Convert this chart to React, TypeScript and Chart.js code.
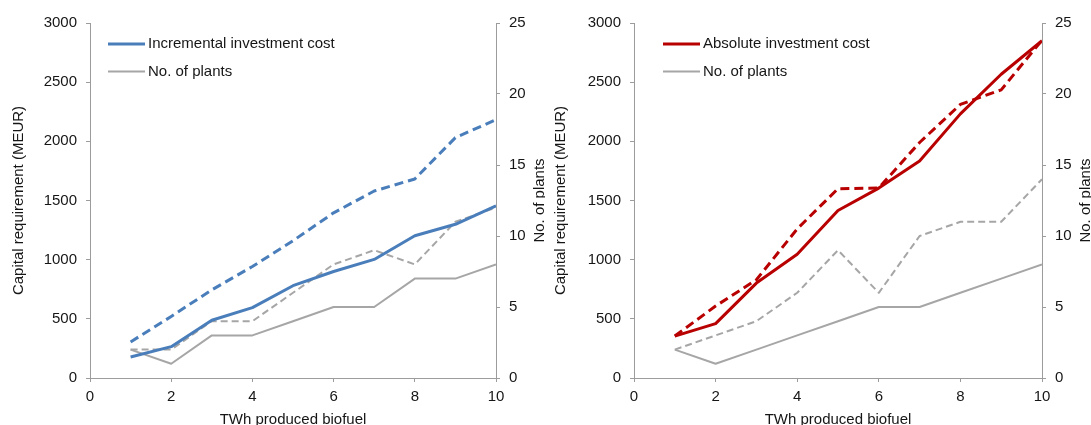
import React, { useEffect, useRef } from "react";
import { Chart, registerables } from "chart.js";

Chart.register(...registerables);

// ---------- data ----------
const twh = [1, 2, 3, 4, 5, 6, 7, 8, 9, 10];

// left panel
const incrementalCost = [178, 265, 488, 595, 780, 900, 1002, 1202, 1299, 1455];
const incrementalCostDashed = [305, 520, 745, 942, 1160, 1396, 1580, 1682, 2031, 2183];
const plantsIncremental = [2, 1, 3, 3, 4, 5, 5, 7, 7, 8];
const plantsIncrementalDashed = [2, 2, 4, 4, 6, 8, 9, 8, 11, 12];

// right panel
const absoluteCost = [354, 459, 802, 1046, 1415, 1605, 1834, 2232, 2567, 2850];
const absoluteCostDashed = [355, 608, 830, 1260, 1600, 1606, 1990, 2312, 2435, 2855];
const plantsAbsolute = [2, 1, 2, 3, 4, 5, 5, 6, 7, 8];
const plantsAbsoluteDashed = [2, 3, 4, 6, 9, 6, 10, 11, 11, 14];

// axis ticks
const costTicks = [0, 500, 1000, 1500, 2000, 2500, 3000];
const plantTicks = [0, 5, 10, 15, 20, 25];
const twhTicks = [0, 2, 4, 6, 8, 10];

const xTitle = "TWh produced biofuel";
const costTitle = "Capital requirement (MEUR)";
const plantsTitle = "No. of plants";
const plantsLabel = "No. of plants";

// ---------- styles ----------
const FONT = "'Liberation Sans', Arial, Helvetica, sans-serif";
const TEXT = "#161616";
const AXIS = "#9c9c9c";
const GRAY = "#a6a6a6";
const BLUE = "#4a7ebb";
const RED = "#b80000";

const CANVAS_H = 440;

type PanelProps = {
  costLabel: string;
  costColor: string;
  cost: number[];
  costDashed: number[];
  plants: number[];
  plantsDashed: number[];
  width: number;
  leftWidth: number;
  leftTitlePad: number;
  legendX: number;
};

function pts(values: number[]) {
  return twh.map((x, i) => ({ x, y: values[i] }));
}

const plainLabel = (v: any) => String(v);

function ChartPanel(p: PanelProps) {
  const ref = useRef<HTMLCanvasElement | null>(null);

  useEffect(() => {
    if (!ref.current) return;
    const rightWidth = 49;
    const overlay = {
      id: "overlay",
      afterDraw(chart: any) {
        const ctx = chart.ctx as CanvasRenderingContext2D;
        const area = chart.chartArea;
        ctx.save();
        ctx.font = `15px ${FONT}`;
        ctx.fillStyle = TEXT;
        ctx.textBaseline = "middle";
        ctx.textAlign = "left";
        const items = chart.data.datasets.filter((d: any) => d.inLegend);
        items.forEach((d: any, i: number) => {
          const y = 44 + i * 27.5;
          ctx.beginPath();
          ctx.setLineDash([]);
          ctx.strokeStyle = d.borderColor;
          ctx.lineWidth = d.borderWidth;
          ctx.moveTo(p.legendX, y);
          ctx.lineTo(p.legendX + 37, y);
          ctx.stroke();
          ctx.fillText(d.label, p.legendX + 40, y);
        });
        ctx.translate(p.width - 5, (area.top + area.bottom) / 2);
        ctx.rotate(-Math.PI / 2);
        ctx.textAlign = "center";
        ctx.fillText(plantsTitle, 0, 0);
        ctx.restore();
      },
    };

    const gridOpts = {
      display: true,
      drawOnChartArea: false,
      drawTicks: true,
      tickLength: 4,
      color: AXIS,
      lineWidth: 1,
    };
    const borderOpts = { display: true, color: AXIS, width: 1 };
    const tickFont = { family: FONT, size: 15 };

    const chart = new Chart(ref.current, {
      type: "line",
      data: {
        datasets: [
          {
            label: p.costLabel,
            inLegend: true,
            data: pts(p.cost),
            borderColor: p.costColor,
            borderWidth: 3,
            yAxisID: "y",
          },
          {
            label: p.costLabel + " (dashed)",
            data: pts(p.costDashed),
            borderColor: p.costColor,
            borderWidth: 3,
            borderDash: [9, 5],
            yAxisID: "y",
          },
          {
            label: plantsLabel,
            inLegend: true,
            data: pts(p.plants),
            borderColor: GRAY,
            borderWidth: 2,
            yAxisID: "y1",
          },
          {
            label: plantsLabel + " (dashed)",
            data: pts(p.plantsDashed),
            borderColor: GRAY,
            borderWidth: 2,
            borderDash: [7, 4],
            yAxisID: "y1",
          },
        ] as any,
      },
      options: {
        animation: false,
        responsive: false,
        events: [],
        elements: {
          point: { radius: 0, hoverRadius: 0 },
          line: { tension: 0, fill: false, borderCapStyle: "butt", borderJoinStyle: "round" },
        },
        layout: { padding: { top: 23, left: 0, right: 0, bottom: 0 } },
        plugins: {
          legend: { display: false },
          tooltip: { enabled: false },
        },
        scales: {
          x: {
            type: "linear",
            position: "bottom",
            min: twhTicks[0],
            max: twhTicks[twhTicks.length - 1],
            grid: gridOpts,
            border: borderOpts,
            ticks: {
              stepSize: twhTicks[1] - twhTicks[0],
              font: tickFont,
              color: TEXT,
              padding: 6,
              maxRotation: 0,
              callback: plainLabel,
            },
            title: {
              display: true,
              text: xTitle,
              font: { family: FONT, size: 15 },
              color: TEXT,
              padding: { top: 0, bottom: 11 },
            },
            afterFit: (s: any) => {
              s.height = CANVAS_H - 378;
            },
          },
          y: {
            type: "linear",
            position: "left",
            min: costTicks[0],
            max: costTicks[costTicks.length - 1],
            grid: gridOpts,
            border: borderOpts,
            ticks: {
              stepSize: costTicks[1] - costTicks[0],
              font: tickFont,
              color: TEXT,
              padding: 9,
              callback: plainLabel,
            },
            title: {
              display: true,
              text: costTitle,
              font: { family: FONT, size: 15 },
              color: TEXT,
              padding: { top: p.leftTitlePad, bottom: 0 },
            },
            afterFit: (s: any) => {
              s.width = p.leftWidth;
            },
          },
          y1: {
            type: "linear",
            position: "right",
            min: plantTicks[0],
            max: plantTicks[plantTicks.length - 1],
            grid: gridOpts,
            border: borderOpts,
            ticks: {
              stepSize: plantTicks[1] - plantTicks[0],
              font: tickFont,
              color: TEXT,
              padding: 9,
              callback: plainLabel,
            },
            title: { display: false },
            afterFit: (s: any) => {
              s.width = rightWidth;
            },
          },
        },
      } as any,
      plugins: [overlay],
    });
    return () => chart.destroy();
  }, []);

  return (
    <canvas
      ref={ref}
      width={p.width}
      height={CANVAS_H}
      style={{ display: "block", width: p.width, height: CANVAS_H }}
    />
  );
}

export default function App() {
  return (
    <div
      style={{
        position: "absolute",
        left: 0,
        top: 0,
        width: 1091,
        height: 425,
        overflow: "hidden",
        background: "#ffffff",
      }}
    >
      <div style={{ position: "absolute", left: 0, top: 0 }}>
        <ChartPanel
          costLabel="Incremental investment cost"
          costColor={BLUE}
          cost={incrementalCost}
          costDashed={incrementalCostDashed}
          plants={plantsIncremental}
          plantsDashed={plantsIncrementalDashed}
          width={545}
          leftWidth={90}
          leftTitlePad={10}
          legendX={108}
        />
      </div>
      <div style={{ position: "absolute", left: 545, top: 0 }}>
        <ChartPanel
          costLabel="Absolute investment cost"
          costColor={RED}
          cost={absoluteCost}
          costDashed={absoluteCostDashed}
          plants={plantsAbsolute}
          plantsDashed={plantsAbsoluteDashed}
          width={546}
          leftWidth={89}
          leftTitlePad={7}
          legendX={118}
        />
      </div>
    </div>
  );
}
